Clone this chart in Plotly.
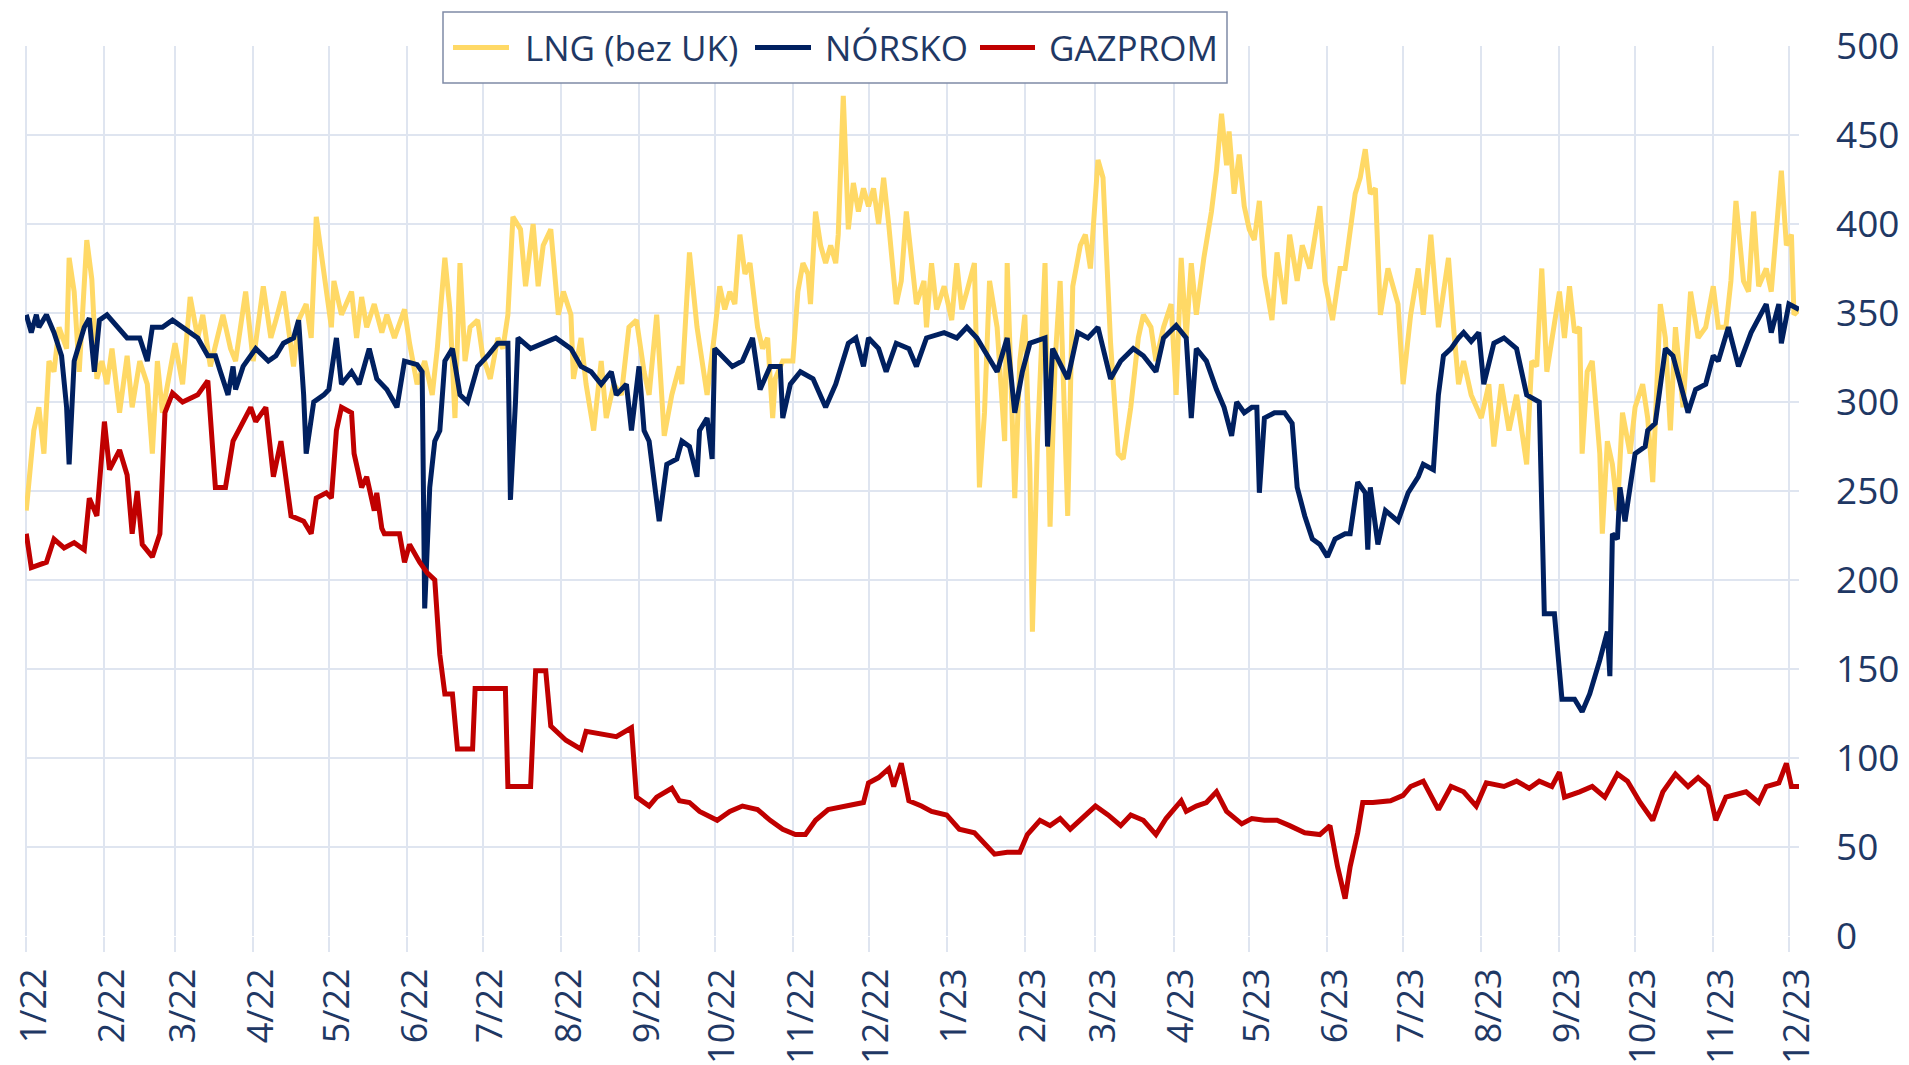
import pandas as pd
import plotly.graph_objects as go

BASE = "2022-01-01"  # day 0

# GAZPROM: day offsets since 1 Jan 2022 and values
gaz_days = [0, 2, 8, 11, 15, 19, 23, 25, 28, 31, 33, 37, 40, 42, 44, 46, 50, 53, 55, 58, 62, 68, 72, 75, 79, 82,
            89, 91, 95, 98, 101, 103, 105, 110, 113, 115, 119, 121, 123, 125, 129, 130, 133, 135, 138, 139, 141,
            142, 148, 150, 152, 156, 159, 162, 164, 166, 169, 171, 177, 178, 190, 191, 200, 202, 206, 208, 214,
            220, 222, 234, 240, 242, 247, 250, 256, 259, 263, 267, 274, 279, 284, 290, 295, 300, 305, 309, 313,
            318, 326, 332, 334, 338, 342, 344, 347, 350, 355, 359, 365, 370, 376, 380, 384, 389, 394, 397, 402,
            406, 410, 414, 418, 424, 429, 434, 438, 443, 448, 452, 458, 460, 464, 468, 472, 476, 482, 486, 491,
            496, 501, 507, 513, 517, 520, 523, 525, 528, 530, 534, 541, 546, 549, 554, 560, 565, 570, 575, 579,
            586, 591, 596, 600, 605, 608, 610, 616, 621, 626, 631, 635, 640, 645, 649, 654, 659, 663, 667, 670,
            674, 682, 687, 690, 695, 698, 700, 703]
gaz_vals = [226, 207, 210, 223, 218, 221, 217, 246, 236, 289, 262, 273, 259, 226, 250, 220, 213, 226, 294, 305, 300,
            304, 312, 252, 252, 278, 297, 289, 297, 258, 278, 258, 236, 233, 226, 246, 249, 246, 284, 297, 294, 271,
            252, 258, 239, 249, 229, 226, 226, 210, 220, 210, 204, 200, 158, 136, 136, 105, 105, 139, 139, 84, 84,
            149, 149, 118, 110, 105, 115, 112, 117, 78, 73, 78, 83, 76, 75, 70, 65, 70, 73, 71, 65, 60, 57, 57, 65,
            71, 73, 75, 86, 89, 94, 84, 97, 76, 73, 70, 68, 60, 58, 52, 46, 47, 47, 57, 65, 62, 66, 60, 65, 73, 68,
            62, 68, 65, 57, 66, 76, 70, 73, 75, 81, 70, 63, 66, 65, 65, 62, 58, 57, 62, 39, 21, 39, 58, 75, 75, 76,
            79, 84, 87, 71, 84, 81, 73, 86, 84, 87, 83, 87, 84, 92, 78, 81, 84, 78, 91, 87, 75, 65, 81, 91, 84, 89,
            84, 65, 78, 81, 75, 84, 86, 97, 84, 84]

# NÓRSKO
nor_days = [0, 2, 4, 5, 8, 11, 14, 16, 17, 19, 23, 25, 27, 29, 32, 36, 40, 45, 48, 50, 54, 58, 62, 68, 72, 75, 77,
            80, 82, 83, 86, 91, 96, 99, 102, 106, 108, 110, 111, 114, 118, 120, 123, 125, 129, 132, 136, 139, 143,
            147, 150, 155, 157, 158, 160, 162, 164, 166, 169, 172, 175, 179, 183, 187, 191, 192, 194, 195, 200, 205,
            210, 216, 220, 224, 228, 232, 234, 238, 240, 243, 245, 247, 251, 254, 258, 260, 263, 266, 267, 270, 272,
            273, 276, 280, 284, 288, 291, 295, 299, 300, 303, 307, 312, 317, 321, 326, 329, 332, 334, 338, 341, 345,
            350, 353, 357, 364, 369, 373, 377, 381, 385, 389, 392, 395, 398, 404, 405, 407, 413, 417, 421, 425, 430,
            434, 439, 443, 448, 451, 456, 460, 462, 464, 468, 472, 475, 478, 480, 483, 486, 488, 489, 491, 495, 499,
            502, 504, 507, 510, 513, 516, 519, 523, 525, 528, 531, 532, 533, 536, 539, 544, 548, 552, 554, 558, 560,
            562, 565, 568, 570, 573, 576, 578, 582, 586, 591, 595, 600, 602, 606, 609, 614, 617, 620, 624, 627, 628,
            629, 631, 632, 634, 638, 642, 643, 646, 650, 653, 657, 659, 662, 666, 669, 671, 675, 679, 684, 690, 692,
            695, 696, 699, 703]
nor_vals = [349, 339, 349, 342, 349, 339, 326, 297, 265, 323, 342, 347, 317, 346, 349, 342, 336, 336, 323, 342, 342,
            346, 342, 336, 326, 326, 317, 304, 320, 307, 320, 330, 323, 326, 333, 336, 346, 304, 271, 300, 304, 307,
            336, 310, 317, 310, 330, 313, 307, 297, 323, 321, 317, 184, 252, 278, 284, 323, 330, 304, 300, 320, 326,
            333, 333, 245, 300, 336, 330, 333, 336, 330, 320, 317, 310, 317, 304, 310, 284, 320, 284, 278, 233, 265,
            268, 278, 275, 258, 284, 291, 268, 330, 326, 320, 323, 336, 307, 320, 320, 291, 310, 317, 313, 297, 310,
            333, 336, 320, 336, 330, 317, 333, 330, 320, 336, 339, 336, 342, 336, 326, 317, 336, 294, 317, 333, 336,
            275, 330, 313, 339, 336, 342, 313, 323, 330, 326, 317, 336, 343, 336, 291, 330, 323, 307, 297, 281, 300,
            294, 297, 297, 249, 291, 294, 294, 288, 252, 236, 223, 220, 213, 223, 226, 226, 255, 249, 217, 252, 220,
            239, 233, 249, 258, 265, 262, 304, 326, 330, 336, 339, 334, 339, 310, 333, 336, 330, 304, 300, 181, 181,
            133, 133, 126, 136, 155, 171, 146, 226, 223, 252, 233, 271, 275, 284, 288, 330, 326, 304, 294, 307, 310,
            326, 323, 342, 320, 339, 355, 339, 355, 333, 355, 352]

# LNG (bez UK)
lng_days = [0, 3, 5, 7, 9, 11, 13, 16, 17, 19, 21, 24, 26, 28, 30, 32, 34, 37, 40, 42, 45, 48, 50, 52, 54, 57, 59,
            62, 65, 68, 70, 73, 76, 78, 81, 83, 87, 90, 94, 97, 99, 102, 106, 108, 111, 113, 115, 118, 121, 122, 125,
            129, 131, 133, 135, 138, 141, 143, 146, 150, 152, 155, 158, 161, 163, 166, 168, 170, 172, 174, 176, 179,
            181, 184, 187, 189, 191, 193, 196, 198, 201, 203, 205, 208, 211, 213, 216, 217, 220, 222, 225, 228, 230,
            233, 236, 239, 242, 245, 247, 250, 253, 256, 259, 260, 263, 266, 268, 270, 273, 275, 277, 279, 281, 283,
            285, 287, 290, 292, 294, 296, 297, 300, 304, 306, 308, 310, 311, 313, 315, 317, 319, 321, 322, 324, 326,
            328, 330, 332, 334, 336, 338, 340, 342, 345, 347, 349, 351, 353, 356, 357, 359, 361, 364, 367, 369, 371,
            373, 376, 378, 380, 382, 385, 388, 389, 392, 394, 396, 398, 399, 401, 404, 406, 408, 410, 413, 415, 418,
            420, 422, 425, 427, 430, 433, 435, 438, 441, 443, 446, 448, 451, 454, 456, 458, 460, 462, 464, 467, 470,
            472, 474, 476, 477, 479, 481, 483, 485, 487, 489, 491, 494, 496, 499, 501, 504, 506, 509, 513, 515, 518,
            521, 523, 527, 529, 531, 533, 535, 537, 540, 544, 546, 549, 552, 554, 557, 560, 564, 566, 568, 570, 573,
            577, 580, 582, 585, 588, 591, 595, 597, 599, 601, 603, 605, 608, 610, 612, 614, 616, 617, 619, 621, 624,
            625, 627, 629, 631, 633, 636, 638, 641, 643, 645, 648, 650, 652, 654, 657, 660, 663, 666, 669, 671, 674,
            676, 678, 681, 683, 685, 687, 690, 692, 696, 698, 700, 701, 703]
lng_vals = [239, 284, 297, 271, 323, 317, 342, 330, 381, 362, 317, 391, 369, 313, 323, 310, 330, 294, 326, 297, 323,
            310, 271, 323, 294, 320, 333, 310, 359, 336, 349, 320, 339, 349, 330, 323, 362, 323, 365, 336, 346, 362,
            320, 346, 355, 336, 404, 375, 342, 368, 349, 362, 336, 359, 342, 355, 339, 349, 336, 352, 333, 310, 323,
            304, 330, 381, 352, 291, 378, 323, 342, 346, 326, 313, 336, 330, 349, 404, 397, 365, 400, 365, 388, 397,
            349, 362, 349, 313, 336, 310, 284, 323, 291, 310, 304, 342, 346, 317, 304, 349, 281, 304, 320, 310, 384,
            342, 323, 304, 339, 365, 352, 362, 355, 394, 372, 378, 342, 330, 336, 291, 313, 323, 323, 362, 378, 372,
            355, 407, 388, 378, 388, 378, 394, 472, 397, 423, 407, 420, 410, 420, 400, 426, 400, 355, 368, 407, 381,
            355, 368, 342, 378, 352, 365, 346, 378, 352, 362, 378, 252, 294, 368, 342, 278, 378, 246, 323, 349, 262,
            171, 278, 378, 230, 323, 368, 236, 365, 388, 394, 375, 436, 426, 333, 271, 268, 297, 336, 349, 342, 323,
            342, 355, 304, 381, 336, 378, 349, 381, 407, 430, 462, 433, 452, 417, 439, 410, 397, 391, 413, 371, 346,
            384, 355, 394, 368, 388, 375, 410, 368, 346, 375, 375, 417, 426, 442, 417, 420, 349, 375, 355, 310, 349,
            375, 349, 394, 342, 381, 342, 310, 323, 304, 291, 310, 275, 310, 284, 304, 265, 323, 320, 375, 317, 336,
            362, 336, 365, 339, 342, 271, 317, 323, 271, 226, 278, 265, 239, 294, 271, 297, 310, 291, 255, 355, 336,
            284, 342, 297, 362, 336, 342, 365, 342, 342, 368, 413, 368, 362, 407, 365, 375, 362, 430, 388, 394, 349,
            352]

y_ticks = [0, 50, 100, 150, 200, 250, 300, 350, 400, 450, 500]

series_names = ["LNG (bez UK)", "NÓRSKO", "GAZPROM"]
series_colors = ["#FFD966", "#002060", "#C00000"]


def to_dates(days):
    return pd.Timestamp(BASE) + pd.to_timedelta(days, unit="D")


NAVY_TEXT = "#1f3864"
GRID = "#dfe5f0"
W, H = 1909, 1065
L, T, B = 17, 38, 137
PW, PH = 1774, 890
R = W - L - PW


def px(x):  # figure pixel x -> paper
    return (x - L) / PW


def py(y):  # figure pixel y (from top) -> paper
    return (H - B - y) / PH


fig = go.Figure()
for days, vals, name, col in [(lng_days, lng_vals, series_names[0], series_colors[0]),
                              (nor_days, nor_vals, series_names[1], series_colors[1]),
                              (gaz_days, gaz_vals, series_names[2], series_colors[2])]:
    fig.add_trace(go.Scatter(x=to_dates(days), y=vals, mode="lines", name=name,
                             line=dict(color=col, width=5), showlegend=False))

# legend box drawn by hand (long line samples as in the original)
shapes = [dict(type="rect", xref="paper", yref="paper", x0=px(435), x1=px(1219), y0=py(75), y1=py(4),
               line=dict(color="#7f8aa6", width=1.5), fillcolor="white", layer="above")]
annotations = []
leg_line_x = [(445, 501), (747, 803), (972, 1027)]
leg_text_x = [515, 815, 1039]
leg_y = 39.5
for (x0, x1), tx, name, col in zip(leg_line_x, leg_text_x, series_names, series_colors):
    shapes.append(dict(type="line", xref="paper", yref="paper", x0=px(x0), x1=px(x1), y0=py(leg_y), y1=py(leg_y),
                       line=dict(color=col, width=5), layer="above"))
    annotations.append(dict(xref="paper", yref="paper", x=px(tx), y=py(leg_y), xanchor="left", yanchor="middle",
                            text=name, showarrow=False,
                            font=dict(family="Open Sans", size=35, color=NAVY_TEXT)))

fig.update_layout(
    width=W, height=H,
    margin=dict(l=L, r=R, t=T, b=B, autoexpand=False),
    paper_bgcolor="white", plot_bgcolor="white",
    showlegend=False,
    shapes=shapes, annotations=annotations,
    font=dict(family="Open Sans", color=NAVY_TEXT),
)
fig.update_xaxes(
    type="date", automargin=False,
    range=[pd.Timestamp("2021-12-31 12:00"), pd.Timestamp("2023-12-05")],
    tick0="2022-01-01", dtick="M1", tickformat="%-m/%y", tickangle=-90,
    showgrid=True, gridcolor=GRID, gridwidth=1.5,
    showline=False, zeroline=False,
    ticks="outside", ticklen=15, tickcolor=GRID, tickwidth=1.5,
    tickfont=dict(family="Open Sans", size=36, color=NAVY_TEXT),
    ticklabelstandoff=2, ticklabelshift=8, ticklabeloverflow="allow",
)
fig.update_yaxes(
    side="right", range=[0, 500], tickvals=y_ticks, automargin=False,
    showgrid=True, gridcolor=GRID, gridwidth=1.5,
    showline=False, zeroline=False, ticks="",
    tickfont=dict(family="Open Sans", size=37, color=NAVY_TEXT),
    ticklabelstandoff=36, ticklabeloverflow="allow",
)

fig.write_html("out.html")
